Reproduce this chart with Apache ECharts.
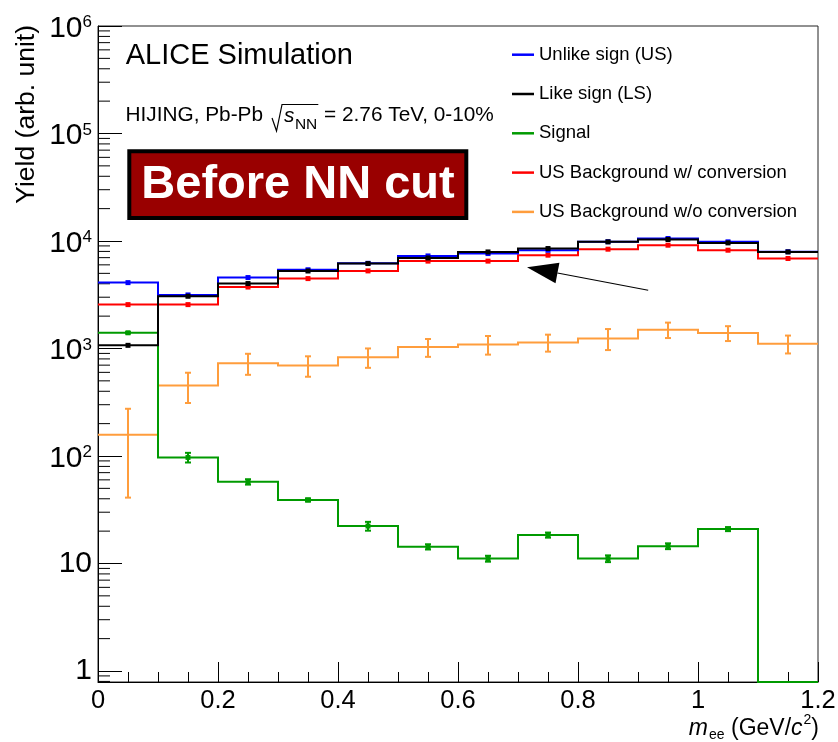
<!DOCTYPE html>
<html>
<head>
<meta charset="utf-8">
<script src="https://cdn.jsdelivr.net/npm/echarts@6/dist/echarts.min.js"></script>
<style>
  html, body { margin: 0; padding: 0; background: #fff; }
  #chart { width: 838px; height: 742px; }
</style>
</head>
<body>
<div id="chart"></div>
<script>
// Dielectron invariant-mass spectra, 12 bins of 0.1 GeV/c^2
const FONT = '"Liberation Sans", Arial, Helvetica, sans-serif';

const binLowEdges = [0, 0.1, 0.2, 0.3, 0.4, 0.5, 0.6, 0.7, 0.8, 0.9, 1.0, 1.1];
const binWidth = 0.1;

const unlikeSign   = [4100, 3150, 4570, 5400, 6200, 7260, 7640, 8200, 9850, 10550, 9820, 7950];
const likeSign     = [1070, 3060, 4020, 5260, 6170, 6950, 7910, 8510, 9820, 10330, 9600, 7910];
const signal       = [1400, 97, 57.5, 39, 22.3, 14.3, 11.1, 18.4, 11.1, 14.5, 20.9, 0];
const signalErr    = [20, 10, 3.3, 1.3, 2.1, 0.8, 0.7, 1.0, 0.8, 0.9, 0.9, 0];
const bkgWithConv  = [2560, 2560, 3730, 4470, 5270, 6500, 6500, 7380, 8390, 9140, 8210, 6870];
const bkgNoConv    = [158, 453, 731, 696, 831, 1031, 1092, 1140, 1242, 1496, 1393, 1109];
const bkgNoConvErr = [117, 142, 162, 150, 170, 195, 215, 205, 275, 245, 220, 210];

const seriesNames = [
  'Unlike sign (US)',
  'Like sign (LS)',
  'Signal',
  'US Background w/ conversion',
  'US Background w/o conversion'
];

const Y_MIN = 0.79;
const Y_MAX = 1e6;

// log-axis minor ticks at 2..9 x 10^k
const yMinorTicks = [];
for (let k = -1; k <= 5; k++) {
  for (let m = 2; m <= 9; m++) {
    const v = m * Math.pow(10, k);
    if (v >= Y_MIN && v < Y_MAX) yMinorTicks.push(v);
  }
}

function histSeries(name, values, errors, color, z, withMarker) {
  return {
    type: 'custom',
    name: name,
    z: z,
    clip: false,
    silent: true,
    itemStyle: { color: color },
    encode: { x: 0, y: 1 },
    data: values.map((v, i) => [binLowEdges[i] + binWidth / 2, Math.max(v, Y_MIN)]),
    renderItem: function (params, api) {
      const i = params.dataIndex;
      const children = [];
      if (i === 0) {
        // step outline of the whole histogram
        const pts = [];
        values.forEach((v, k) => {
          const y = Math.max(v, Y_MIN);
          pts.push(api.coord([binLowEdges[k], y]));
          pts.push(api.coord([binLowEdges[k] + binWidth, y]));
        });
        children.push({
          type: 'polyline',
          shape: { points: pts },
          style: { stroke: color, lineWidth: 2, fill: null, lineJoin: 'miter' }
        });
      }
      const v = values[i];
      const c = binLowEdges[i] + binWidth / 2;
      if (errors && v > 0 && errors[i] > 0) {
        const top = api.coord([c, v + errors[i]]);
        const bot = api.coord([c, Math.max(v - errors[i], Y_MIN)]);
        const es = { stroke: color, lineWidth: 2 };
        children.push({ type: 'line', shape: { x1: top[0], y1: top[1], x2: bot[0], y2: bot[1] }, style: es });
        children.push({ type: 'line', shape: { x1: top[0] - 3, y1: top[1], x2: top[0] + 3, y2: top[1] }, style: es });
        children.push({ type: 'line', shape: { x1: bot[0] - 3, y1: bot[1], x2: bot[0] + 3, y2: bot[1] }, style: es });
      }
      if (withMarker && v > 0) {
        const p = api.coord([c, v]);
        children.push({ type: 'rect', shape: { x: p[0] - 2.5, y: p[1] - 2.5, width: 5, height: 5 }, style: { fill: color } });
      }
      return { type: 'group', children: children };
    }
  };
}

function yLabel(value) {
  const e = Math.log10(value);
  const r = Math.round(e);
  if (Math.abs(e - r) > 1e-6) return '';
  if (r === 0) return '{p|1}';
  if (r === 1) return '{p|10}';
  return '{b|10}{s|' + r + '}';
}

const option = {
  animation: false,
  backgroundColor: '#fff',
  grid: {
    left: 98, right: 20, top: 26, bottom: 60,
    show: true, borderColor: '#222', borderWidth: 1,
    containLabel: false, outerBoundsMode: 'none'
  },
  legend: {
    orient: 'vertical',
    left: 507, top: 39.7,
    itemWidth: 22, itemHeight: 2.5, itemGap: 19.3,
    icon: 'rect',
    selectedMode: false,
    data: seriesNames,
    textStyle: { fontFamily: FONT, fontSize: 18.5, lineHeight: 20, color: '#000' }
  },
  xAxis: {
    type: 'value',
    min: 0, max: 1.2, interval: 0.2,
    axisLine: { show: true, onZero: false, lineStyle: { color: '#000', width: 1 } },
    axisTick: { show: true, inside: true, length: 20, lineStyle: { color: '#000', width: 1 } },
    minorTick: { show: true, splitNumber: 4, length: 10, lineStyle: { color: '#000', width: 1 } },
    axisLabel: { margin: 6, fontSize: 25.5, fontFamily: FONT, color: '#000' },
    splitLine: { show: false },
    minorSplitLine: { show: false }
  },
  yAxis: {
    type: 'log', logBase: 10,
    min: Y_MIN, max: Y_MAX,
    axisLine: { show: true, lineStyle: { color: '#000', width: 1 } },
    axisTick: { show: true, inside: true, length: 24, lineStyle: { color: '#000', width: 1 } },
    axisLabel: {
      margin: 6,
      formatter: yLabel,
      rich: {
        p: { fontSize: 30, lineHeight: 32, fontFamily: FONT, color: '#000' },
        b: { fontSize: 30, lineHeight: 32, padding: [5, 0, 0, 0], fontFamily: FONT, color: '#000' },
        s: { fontSize: 17, lineHeight: 17, padding: [4, 0, 0, 0], verticalAlign: 'top', fontFamily: FONT, color: '#000' }
      }
    },
    splitLine: { show: false }
  },
  series: [
    {
      type: 'custom',
      name: 'yMinorTicks',
      silent: true,
      z: 1,
      encode: { x: 0, y: 1 },
      data: yMinorTicks.map(v => [0, v]),
      renderItem: function (params, api) {
        const p = api.coord([0, api.value(1)]);
        return { type: 'line', shape: { x1: p[0], y1: p[1], x2: p[0] + 12, y2: p[1] }, style: { stroke: '#000', lineWidth: 1 } };
      }
    },
    histSeries(seriesNames[4], bkgNoConv, bkgNoConvErr, '#ff9d3c', 2, false),
    histSeries(seriesNames[2], signal, signalErr, '#009a00', 3, true),
    histSeries(seriesNames[3], bkgWithConv, null, '#ff0000', 4, true),
    histSeries(seriesNames[0], unlikeSign, null, '#0000ff', 5, true),
    histSeries(seriesNames[1], likeSign, null, '#000000', 6, true)
  ]
};

const chart = echarts.init(document.getElementById('chart'), null, { renderer: 'canvas' });
chart.setOption(option);

// text helpers for sub/superscripted labels
const mctx = document.createElement('canvas').getContext('2d');
function fontStr(p) {
  return (p.italic ? 'italic ' : '') + (p.bold ? 'bold ' : '') + p.size + 'px ' + FONT;
}
function textWidth(p) {
  mctx.font = fontStr(p);
  return mctx.measureText(p.text).width;
}
function textRun(x, baseline, parts, alignRight) {
  const widths = parts.map(textWidth);
  let cx = alignRight ? x - widths.reduce((a, b) => a + b, 0) : x;
  return parts.map((p, i) => {
    const el = {
      type: 'text', z: 20,
      x: cx + (p.dx || 0),
      y: baseline + (p.dy || 0) - 0.35 * p.size,
      style: { text: p.text, font: fontStr(p), fill: '#000', align: 'left', verticalAlign: 'middle' }
    };
    cx += widths[i] + (p.dx || 0);
    return el;
  });
}

const graphics = [];

// y-axis title
graphics.push({
  type: 'text', z: 20, x: 26.5, y: 25, rotation: Math.PI / 2,
  style: { text: 'Yield (arb. unit)', font: '26.5px ' + FONT, fill: '#000', align: 'right', verticalAlign: 'middle' }
});

// x-axis title: m_ee (GeV/c^2)
textRun(817, 737, [
  { text: 'm', size: 23, italic: true },
  { text: 'ee', size: 14, dy: 3, dx: 1 },
  { text: ' (GeV/', size: 23 },
  { text: 'c', size: 23, italic: true },
  { text: '2', size: 14, dy: -12, dx: 1 },
  { text: ')', size: 23 }
], true).forEach(e => graphics.push(e));

// experiment tag
textRun(125.7, 65.7, [{ text: 'ALICE Simulation', size: 29 }], false).forEach(e => graphics.push(e));

// collision system line with a drawn radical sign
(function () {
  const x0 = 125.5, base = 123, size = 20.8;
  const head = { text: 'HIJING, Pb-Pb', size: size };
  const w1 = textWidth(head);
  const r0 = x0 + w1 + 9;
  const sPart = { text: 's', size: size, italic: true };
  const nnPart = { text: 'NN', size: 15.5 };
  const sx = r0 + 12;
  const nnx = sx + textWidth(sPart) + 0.5;
  const barEnd = nnx + textWidth(nnPart) + 1;
  textRun(x0, base, [head], false).forEach(e => graphics.push(e));
  graphics.push({
    type: 'polyline', z: 20,
    shape: { points: [[r0, base - 5], [r0 + 4.5, base + 8], [r0 + 10, base - 18.5], [barEnd, base - 18.5]] },
    style: { stroke: '#000', lineWidth: 1.2, fill: null }
  });
  textRun(sx, base, [sPart], false).forEach(e => graphics.push(e));
  textRun(nnx, base + 7, [nnPart], false).forEach(e => graphics.push(e));
  textRun(barEnd, base, [{ text: ' = 2.76 TeV, 0-10%', size: size }], false).forEach(e => graphics.push(e));
})();

// highlighted stage label
graphics.push({
  type: 'rect', z: 20,
  shape: { x: 129.3, y: 151.3, width: 337, height: 66.7 },
  style: { fill: '#990000', stroke: '#000', lineWidth: 4 }
});
graphics.push({
  type: 'text', z: 21, x: 298, y: 185,
  style: { text: 'Before NN cut', font: 'bold 47px ' + FONT, fill: '#fff', align: 'center', verticalAlign: 'middle' }
});

// arrow pointing at the background spectrum
(function () {
  const tail = chart.convertToPixel({ gridIndex: 0 }, [0.917, 3480]);
  const tip = chart.convertToPixel({ gridIndex: 0 }, [0.715, 5700]);
  const dx = tip[0] - tail[0], dy = tip[1] - tail[1];
  const len = Math.sqrt(dx * dx + dy * dy);
  const ux = dx / len, uy = dy / len;
  const headLen = 31, halfW = 10.5;
  const bx = tip[0] - ux * headLen, by = tip[1] - uy * headLen;
  graphics.push({
    type: 'line', z: 20,
    shape: { x1: tail[0], y1: tail[1], x2: bx, y2: by },
    style: { stroke: '#000', lineWidth: 1.2 }
  });
  graphics.push({
    type: 'polygon', z: 20,
    shape: { points: [[tip[0], tip[1]], [bx - uy * halfW, by + ux * halfW], [bx + uy * halfW, by - ux * halfW]] },
    style: { fill: '#000' }
  });
})();

chart.setOption({ graphic: { elements: graphics } });
</script>
</body>
</html>
